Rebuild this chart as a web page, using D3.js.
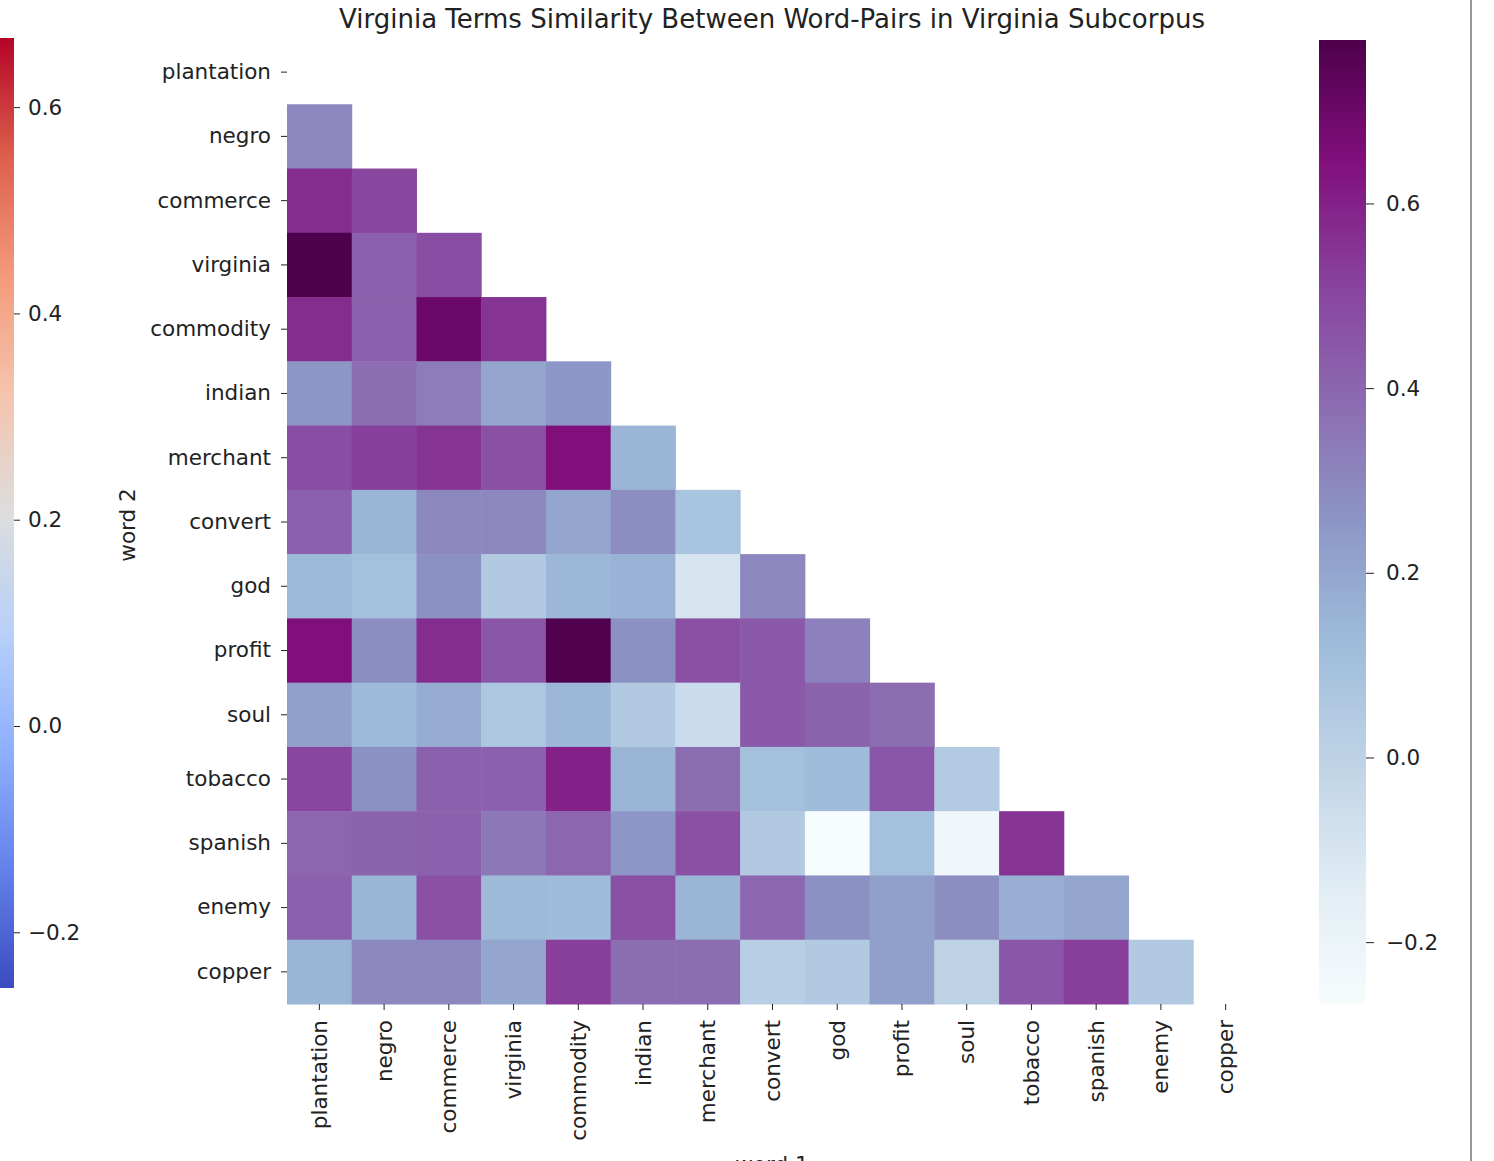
<!DOCTYPE html>
<html>
<head>
<meta charset="utf-8">
<script src="https://cdn.jsdelivr.net/npm/d3@7"></script>
<style>
  body { margin: 0; background: #fff; }
  text { font-family: "DejaVu Sans", sans-serif; fill: #222; }
</style>
</head>
<body>
<div id="container"></div>
<script>
var words = ["plantation", "negro", "commerce", "virginia", "commodity", "indian", "merchant",
             "convert", "god", "profit", "soul", "tobacco", "spanish", "enemy", "copper"]

// lower triangle, row i holds similarity with words[0..i-1]
var sims = [
  [],
  [0.30],
  [0.57, 0.50],
  [0.777, 0.42, 0.48],
  [0.57, 0.42, 0.70, 0.55],
  [0.25, 0.38, 0.33, 0.20, 0.25],
  [0.48, 0.52, 0.55, 0.47, 0.65, 0.15],
  [0.42, 0.15, 0.30, 0.30, 0.20, 0.28, 0.08],
  [0.13, 0.10, 0.27, 0.05, 0.14, 0.16, -0.10, 0.30],
  [0.65, 0.28, 0.57, 0.45, 0.77, 0.27, 0.47, 0.44, 0.32],
  [0.22, 0.13, 0.18, 0.06, 0.14, 0.05, -0.05, 0.44, 0.41, 0.38],
  [0.50, 0.27, 0.42, 0.42, 0.60, 0.15, 0.38, 0.10, 0.12, 0.45, 0.04],
  [0.40, 0.41, 0.42, 0.35, 0.40, 0.25, 0.47, 0.05, -0.267, 0.10, -0.23, 0.55],
  [0.42, 0.15, 0.47, 0.13, 0.12, 0.47, 0.15, 0.40, 0.27, 0.22, 0.28, 0.17, 0.20],
  [0.15, 0.30, 0.30, 0.20, 0.52, 0.38, 0.38, 0.02, 0.05, 0.22, 0.00, 0.45, 0.52, 0.05]
]

var cbTicks = [-0.2, 0.0, 0.2, 0.4, 0.6]
var leftTicks = [-0.2, 0.0, 0.2, 0.4, 0.6]
var vmin = -0.267, vmax = 0.777
var leftMin = -0.254, leftMax = 0.667

var coolwarm = ["#3b4cc0", "#6282ea", "#8db0fe", "#b8d0f9", "#dddddd",
                "#f5c4ad", "#f49a7b", "#dd604d", "#b40426"]

var W = 1494, H = 1161
var fs = "21.5px"
var svg = d3.select("#container").append("svg")
    .attr("width", W)
    .attr("height", H)

var x = d3.scaleBand().domain(words).range([287, 1258]).padding(0)
var y = d3.scaleBand().domain(words).range([40, 1004]).padding(0)

var color = d3.scaleLinear()
    .domain(d3.range(9).map(function(i) { return vmin + (vmax - vmin) * i / 8 }))
    .range(d3.schemeBuPu[9])
    .clamp(true)

var cells = []
sims.forEach(function(row, i) {
  row.forEach(function(v, j) {
    cells.push({ row: words[i], col: words[j], value: v })
  })
})

svg.append("g").selectAll("rect")
  .data(cells)
  .enter().append("rect")
    .attr("x", function(d) { return x(d.col) })
    .attr("y", function(d) { return y(d.row) })
    .attr("width", x.bandwidth() + 0.5)
    .attr("height", y.bandwidth() + 0.5)
    .attr("fill", function(d) { return color(d.value) })

// axes
var yAxis = svg.append("g")
    .attr("transform", "translate(287,0)")
    .call(d3.axisLeft(y).tickSize(6).tickPadding(10))
yAxis.select(".domain").remove()
yAxis.selectAll("text").attr("font-size", fs).style("font-family", "DejaVu Sans")
yAxis.selectAll("line").attr("stroke", "#222")

var xAxis = svg.append("g")
    .attr("transform", "translate(0,1004)")
    .call(d3.axisBottom(x).tickSize(6).tickPadding(8))
xAxis.select(".domain").remove()
xAxis.selectAll("line").attr("stroke", "#222")
xAxis.selectAll("text")
    .attr("font-size", fs)
    .style("font-family", "DejaVu Sans")
    .attr("transform", "rotate(-90)")
    .attr("text-anchor", "end")
    .attr("x", -16)
    .attr("y", 0)
    .attr("dy", "0.35em")

svg.append("text")
    .attr("x", 772)
    .attr("y", 28)
    .attr("text-anchor", "middle")
    .attr("font-size", "26px")
    .text("Virginia Terms Similarity Between Word-Pairs in Virginia Subcorpus")

svg.append("text")
    .attr("transform", "translate(135,525) rotate(-90)")
    .attr("text-anchor", "middle")
    .attr("font-size", fs)
    .text("word 2")

svg.append("text")
    .attr("x", 772)
    .attr("y", 1172)
    .attr("text-anchor", "middle")
    .attr("font-size", fs)
    .text("word 1")

// gradients
var defs = svg.append("defs")
function gradient(id, colors) {
  var g = defs.append("linearGradient")
      .attr("id", id)
      .attr("x1", 0).attr("y1", 1).attr("x2", 0).attr("y2", 0)
  colors.forEach(function(c, i) {
    g.append("stop")
      .attr("offset", i / (colors.length - 1))
      .attr("stop-color", c)
  })
}
gradient("bupu", d3.schemeBuPu[9])
gradient("cw", coolwarm)

// right colorbar
var cy = d3.scaleLinear().domain([vmin, vmax]).range([1004, 40])
svg.append("rect")
    .attr("x", 1319).attr("y", 40)
    .attr("width", 47).attr("height", 964)
    .attr("fill", "url(#bupu)")
var cAxis = svg.append("g")
    .attr("transform", "translate(1366,0)")
    .call(d3.axisRight(cy).tickValues(cbTicks).tickFormat(d3.format(".1f")).tickSize(8).tickPadding(12))
cAxis.select(".domain").remove()
cAxis.selectAll("text").attr("font-size", fs).style("font-family", "DejaVu Sans")
cAxis.selectAll("line").attr("stroke", "#222")

// left colorbar (leftover from a previous figure)
var ly = d3.scaleLinear().domain([leftMin, leftMax]).range([988, 38])
svg.append("rect")
    .attr("x", 0).attr("y", 38)
    .attr("width", 14).attr("height", 950)
    .attr("fill", "url(#cw)")
var lAxis = svg.append("g")
    .attr("transform", "translate(14,0)")
    .call(d3.axisRight(ly).tickValues(leftTicks).tickFormat(d3.format(".1f")).tickSize(6).tickPadding(8))
lAxis.select(".domain").remove()
lAxis.selectAll("text").attr("font-size", fs).style("font-family", "DejaVu Sans")
lAxis.selectAll("line").attr("stroke", "#222")

// frame edge on the right
svg.append("line")
    .attr("x1", 1471).attr("x2", 1471)
    .attr("y1", 0).attr("y2", H)
    .attr("stroke", "#999")
    .attr("stroke-width", 2)
</script>
</body>
</html>
